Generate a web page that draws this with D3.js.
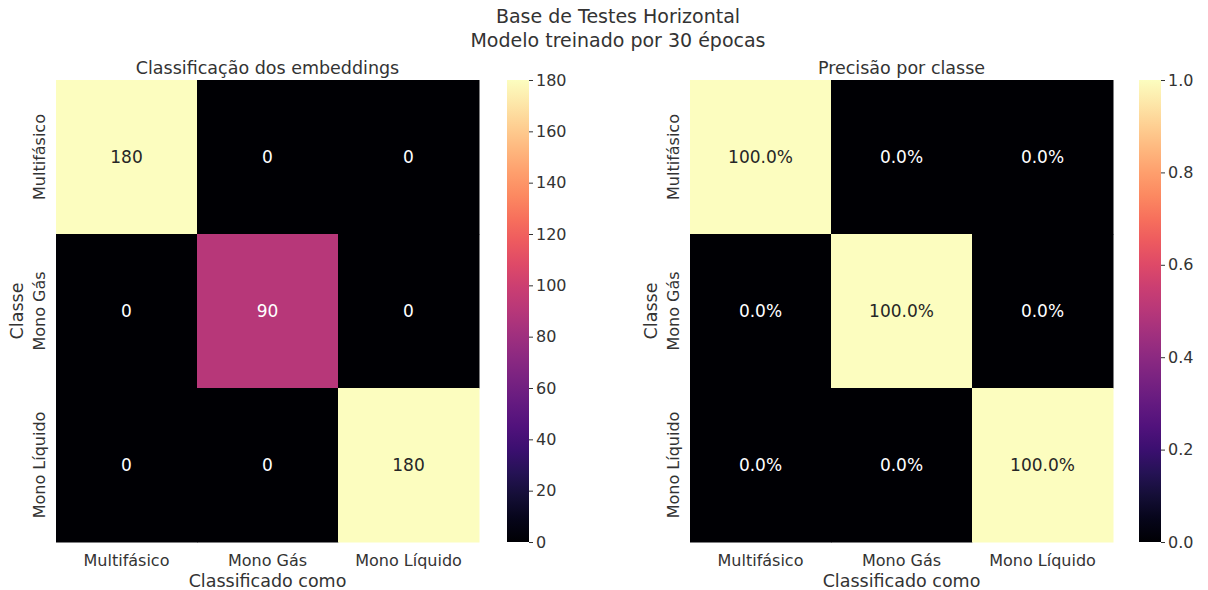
<!DOCTYPE html>
<html>
<head>
<meta charset="utf-8">
<script src="https://cdn.jsdelivr.net/npm/d3@7"></script>
<style>
  body { margin: 0; background: #fff; }
  text { font-family: "DejaVu Sans", sans-serif; fill: #333; }
</style>
</head>
<body>
<div id="chart"></div>
<script>
// data
const classes = ["Multifásico", "Mono Gás", "Mono Líquido"]
const counts = [
  [180, 0, 0],
  [0, 90, 0],
  [0, 0, 180]
]
const precision = [
  [1.0, 0.0, 0.0],
  [0.0, 1.0, 0.0],
  [0.0, 0.0, 1.0]
]
const countTicks = [0, 20, 40, 60, 80, 100, 120, 140, 160, 180]
const precTicks = [0.0, 0.2, 0.4, 0.6, 0.8, 1.0]

const W = 1208, H = 590
const svg = d3.select("#chart").append("svg")
  .attr("width", W)
  .attr("height", H)

// suptitle
svg.append("text")
  .attr("x", 618).attr("y", 23)
  .attr("text-anchor", "middle")
  .attr("font-size", "19px")
  .text("Base de Testes Horizontal")
svg.append("text")
  .attr("x", 618).attr("y", 47)
  .attr("text-anchor", "middle")
  .attr("font-size", "19px")
  .text("Modelo treinado por 30 épocas")

const defs = svg.append("defs")

function drawPanel(opts) {
  const { left, top, width, height, data, max, ticks, fmt, cellFmt, title, cbX, id } = opts
  const g = svg.append("g").attr("transform", `translate(${left}, ${top})`)

  const x = d3.scaleBand().domain(classes).range([0, width])
  const y = d3.scaleBand().domain(classes).range([0, height])
  const color = d3.scaleSequential(d3.interpolateMagma).domain([0, max])

  const cells = []
  data.forEach((row, i) => row.forEach((v, j) => cells.push({ r: classes[i], c: classes[j], v })))

  g.selectAll("rect.cell").data(cells).join("rect")
    .attr("class", "cell")
    .attr("x", d => x(d.c))
    .attr("y", d => y(d.r))
    .attr("width", x.bandwidth() + 0.5)
    .attr("height", y.bandwidth() + 0.5)
    .attr("fill", d => color(d.v))

  // annotations, light text on dark cells
  g.selectAll("text.annot").data(cells).join("text")
    .attr("class", "annot")
    .attr("x", d => x(d.c) + x.bandwidth() / 2)
    .attr("y", d => y(d.r) + y.bandwidth() / 2)
    .attr("dy", "0.35em")
    .attr("text-anchor", "middle")
    .attr("font-size", "17px")
    .style("fill", d => d3.hsl(color(d.v)).l > 0.55 ? "#262626" : "#ffffff")
    .text(d => cellFmt(d.v))

  // x tick labels
  g.append("g").selectAll("text").data(classes).join("text")
    .attr("x", d => x(d) + x.bandwidth() / 2)
    .attr("y", height + 24)
    .attr("text-anchor", "middle")
    .attr("font-size", "16px")
    .text(d => d)

  // y tick labels (rotated)
  g.append("g").selectAll("text").data(classes).join("text")
    .attr("transform", d => `translate(-11, ${y(d) + y.bandwidth() / 2}) rotate(-90)`)
    .attr("text-anchor", "middle")
    .attr("font-size", "16px")
    .text(d => d)

  // axis labels
  g.append("text")
    .attr("x", width / 2).attr("y", height + 45)
    .attr("text-anchor", "middle")
    .attr("font-size", "17.5px")
    .text("Classificado como")
  g.append("text")
    .attr("transform", `translate(-33, ${height / 2}) rotate(-90)`)
    .attr("text-anchor", "middle")
    .attr("font-size", "17.5px")
    .text("Classe")

  // subplot title
  g.append("text")
    .attr("x", width / 2).attr("y", -6)
    .attr("text-anchor", "middle")
    .attr("font-size", "17.5px")
    .text(title)

  // colorbar
  const grad = defs.append("linearGradient")
    .attr("id", id)
    .attr("x1", "0%").attr("y1", "100%")
    .attr("x2", "0%").attr("y2", "0%")
  d3.range(0, 1.0001, 0.05).forEach(t => {
    grad.append("stop")
      .attr("offset", `${t * 100}%`)
      .attr("stop-color", d3.interpolateMagma(t))
  })
  const cbW = 22
  svg.append("rect")
    .attr("x", cbX).attr("y", top)
    .attr("width", cbW).attr("height", height)
    .attr("fill", `url(#${id})`)

  const cy = d3.scaleLinear().domain([0, max]).range([top + height, top])
  const cbAxis = d3.axisRight(cy).tickValues(ticks).tickFormat(fmt).tickSize(4).tickPadding(3)
  const ag = svg.append("g")
    .attr("transform", `translate(${cbX + cbW}, 0)`)
    .call(cbAxis)
  ag.select(".domain").remove()
  ag.selectAll(".tick line").attr("stroke", "#333")
  ag.selectAll(".tick text")
    .attr("font-size", "16px")
    .attr("font-family", "DejaVu Sans, sans-serif")
    .style("fill", "#333")
}

drawPanel({
  left: 56, top: 80, width: 423, height: 462,
  data: counts, max: 180, ticks: countTicks,
  fmt: d3.format("d"), cellFmt: d => d,
  title: "Classificação dos embeddings", cbX: 507, id: "cb1"
})

drawPanel({
  left: 690, top: 80, width: 423, height: 462,
  data: precision, max: 1, ticks: precTicks,
  fmt: d3.format(".1f"), cellFmt: d => d3.format(".1%")(d),
  title: "Precisão por classe", cbX: 1139, id: "cb2"
})
</script>
</body>
</html>
